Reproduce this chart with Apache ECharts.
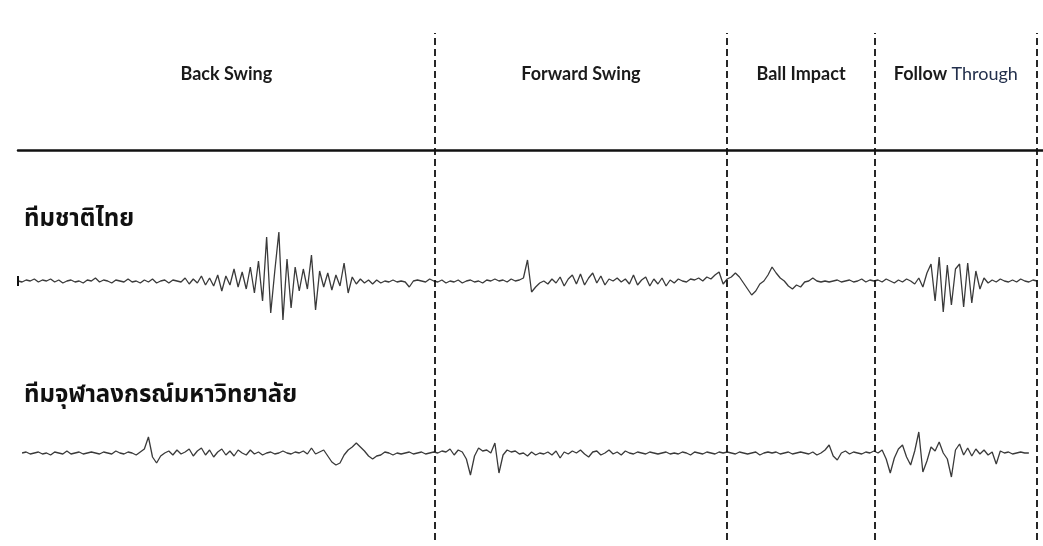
<!DOCTYPE html>
<html>
<head>
<meta charset="utf-8">
<title>EMG – golf swing phases</title>
<script src="https://cdn.jsdelivr.net/npm/echarts@6/dist/echarts.min.js"></script>
<style>
  html, body { margin: 0; padding: 0; background: #fff; }
  #chart { width: 1043px; height: 546px; }
</style>
</head>
<body>
<div id="chart"></div>
<script>
// Swing phases (percent of the swing cycle) and their names
const phaseNames = ['Back Swing', 'Forward Swing', 'Ball Impact', 'Follow Through'];
const phaseBounds = [0, 40.9, 69.6, 84.1, 100];

// Group labels
const groupNames = ['ทีมชาติไทย', 'ทีมจุฬาลงกรณ์มหาวิทยาลัย'];

// Sampling step of the EMG traces (percent of the swing cycle)
const sampleStep = 0.4;

// EMG amplitude, national team (starts at 0 %)
const emgNational = [
  0, -1, 1, 0, 2, -1, 1, 0, 2, -1,
  1, -2, 0, 1, -1, 0, -2, 1, 0, 3,
  -1, 1, 0, -2, 1, 0, -1, 2, -1, 0,
  -2, 1, -1, 2, -2, 0, 1, -2, 1, 0,
  -1, 3, -3, 2, -2, 5, -4, 3, -5, 6,
  -10, 5, -4, 12, -6, 9, -8, 14, -12, 20,
  -20, 44, -32, 10, 49, -39, 22, -27, 14, -10,
  12, -8, 26, -29, 10, -6, 8, -9, 6, -5,
  18, -12, 4, -3, 2, -2, 1, -3, 1, -2,
  0, -1, 1, -1, 0, -1, -6, 0, 1, 0,
  -1, 2, 0, -1, 1, -2, 0, -1, 1, -2,
  0, 1, -1, 0, -2, 1, 0, 2, 0, 1,
  -1, 2, 0, 1, 3, 21, -11, -6, -2, 0,
  -3, 2, -2, 4, -5, 2, 6, -3, 7, -4,
  3, 8, -2, 5, -4, 2, 0, 3, -1, 2,
  -3, 6, -4, 1, 4, -5, 2, -3, 3, -5,
  1, -2, 2, 0, -1, 2, 1, 3, 0, 4,
  2, 6, 9, -3, 2, 4, 8, 4, -2, -8,
  -14, -10, -3, 0, 6, 14, 8, 3, 0, -5,
  -8, -4, -6, -1, 0, 3, 0, -1, 0, -1,
  0, 1, -1, 0, 1, -1, 0, 2, -1, 1,
  0, 1, -1, 2, 0, -2, 1, -1, 2, 0,
  -3, 3, -6, 8, 17, -20, 24, -31, 16, -24,
  12, 17, -26, 18, -22, 10, -8, 3, -2, 1,
  -1, 2, 0, -1, 1, -1, 2, 0, -1, 1,
  0
];

// EMG amplitude, university team (starts at 0.4 %)
const emgUniversityStart = 0.4;
const emgUniversity = [
  0, 1, -1, 0, 1, -1, 0, -2, 1,
  0, -1, 2, -1, 0, 1, -1, 0, 1, 0,
  -1, 1, 0, -1, 2, 0, -1, 1, 0, -2,
  1, 4, 16, -4, -10, -3, 0, 2, -2, 3,
  -1, 1, 4, -3, 2, 5, -2, 3, -4, 1,
  4, -2, 2, -3, 3, 0, -2, 3, -1, 1,
  -2, 0, 1, -1, 0, 2, 0, -1, 1, 0,
  2, -1, 5, -1, 1, 3, -3, -9, -12, -10,
  -2, 3, 6, 10, 6, 2, -3, -6, -3, -2,
  1, 0, -2, 0, -1, 0, 1, -1, 0, 1,
  -1, 0, 1, 0, 2, 1, 4, -2, 3, 1,
  -6, -22, -3, 5, 2, 3, 0, 10, -20, -2,
  3, 1, 2, -1, 0, -3, 1, -2, 0, -1,
  1, -2, 2, -5, 1, -1, 2, 0, 3, -1,
  -4, 1, 2, -2, 0, 3, -1, 1, -2, 2,
  0, -1, 1, 0, -1, 1, 0, -1, 0, 1,
  -1, 0, -1, 1, 0, -2, 1, 0, -1, 1,
  0, -1, 1, 0, 1, 0, -1, 1, 0, -1,
  0, 1, -2, 0, 1, 0, 1, -1, 0, 1,
  -1, 0, 1, 0, -1, 1, -2, 0, 3, 8,
  -3, -7, 0, 2, -1, 1, 0, -1, 1, 0,
  2, 0, 3, -6, -20, -5, 4, 8, -4, -12,
  2, 21, -19, -8, 6, 2, 11, 0, -6, -24,
  3, 9, -2, 5, -3, 4, -1, 3, -2, 1,
  -11, 2, 0, 1, -1, 0, 1, 0, 0
];

function toPoints(values, start) {
  return values.map((v, i) => [+(start + i * sampleStep).toFixed(2), v]);
}

const LEFT = 18, RIGHT = 6;
const ink = '#111';
const trace = '#3a3a3a';
const thaiFont = '"Noto Sans Thai", Loma, Garuda, "Tlwg Typo", sans-serif';
const headFont = 'Lato, "Open Sans", sans-serif';

const phaseAreas = phaseNames.map((name, i) => [
  { name: name, xAxis: phaseBounds[i] },
  { xAxis: phaseBounds[i + 1] }
]);
// "Follow Through" is written with two styles
phaseAreas[3][0].label = { formatter: '{a|Follow} {b|Through}' };

const option = {
  animation: false,
  backgroundColor: '#fff',
  title: [
    { text: groupNames[0], left: 19, top: 204, padding: [5, 5, 5, 5],
      textStyle: { fontSize: 24, fontWeight: 'bold', color: '#111', fontFamily: thaiFont } },
    { text: groupNames[1], left: 19, top: 380, padding: [5, 5, 5, 5],
      textStyle: { fontSize: 24, fontWeight: 'bold', color: '#111', fontFamily: thaiFont } }
  ],
  grid: [
    { left: LEFT, right: 0, top: 0, height: 150 },            // header with phase names
    { left: LEFT, right: RIGHT, top: 33, bottom: 6 },          // phase boundaries
    { left: LEFT, right: RIGHT, top: 221, height: 120 },       // national team trace
    { left: LEFT, right: RIGHT, top: 393, height: 120 }        // university team trace
  ],
  xAxis: [
    { gridIndex: 0, type: 'value', min: 0, max: 100.6,
      axisLine: { show: true, onZero: false, lineStyle: { color: ink, width: 2.5 } },
      axisTick: { show: false }, axisLabel: { show: false }, splitLine: { show: false } },
    { gridIndex: 1, type: 'value', min: 0, max: 100, show: false },
    { gridIndex: 2, type: 'value', min: 0, max: 100, show: false },
    { gridIndex: 3, type: 'value', min: 0, max: 100, show: false }
  ],
  yAxis: [
    { gridIndex: 0, type: 'value', min: 0, max: 1, show: false },
    { gridIndex: 1, type: 'value', min: 0, max: 1, show: false },
    { gridIndex: 2, type: 'value', min: -60, max: 60, show: false },
    { gridIndex: 3, type: 'value', min: -60, max: 60, show: false }
  ],
  series: [
    {
      type: 'line', xAxisIndex: 0, yAxisIndex: 0, data: [], silent: true,
      markArea: {
        silent: true,
        itemStyle: { color: 'rgba(0,0,0,0)' },
        label: {
          position: 'inside',
          offset: [0, -1],
          color: '#1a1a1a',
          fontSize: 18,
          fontFamily: headFont,
          fontWeight: 'bold',
          rich: {
            a: { color: '#1a1a1a', fontSize: 18, fontFamily: headFont, fontWeight: 'bold' },
            b: { color: '#23304d', fontSize: 18, fontFamily: headFont, fontWeight: 'normal' }
          }
        },
        data: phaseAreas
      }
    },
    {
      type: 'line', xAxisIndex: 1, yAxisIndex: 1, data: [], silent: true,
      markLine: {
        silent: true, symbol: 'none', animation: false,
        label: { show: false },
        lineStyle: { color: ink, width: 1.8, type: [7, 4] },
        data: phaseBounds.slice(1).map(b => ({ xAxis: b }))
      }
    },
    {
      name: groupNames[0], type: 'line', xAxisIndex: 2, yAxisIndex: 2,
      data: toPoints(emgNational, 0),
      showSymbol: false, smooth: false,
      lineStyle: { color: trace, width: 1.3 },
      markLine: {
        silent: true, symbol: 'none', label: { show: false },
        lineStyle: { color: ink, width: 2, type: 'solid' },
        data: [[{ coord: [0, -5] }, { coord: [0, 5] }]]
      }
    },
    {
      name: groupNames[1], type: 'line', xAxisIndex: 3, yAxisIndex: 3,
      data: toPoints(emgUniversity, emgUniversityStart),
      showSymbol: false, smooth: false,
      lineStyle: { color: trace, width: 1.3 }
    }
  ]
};

echarts.init(document.getElementById('chart'), null, { renderer: 'canvas' }).setOption(option);
</script>
</body>
</html>
